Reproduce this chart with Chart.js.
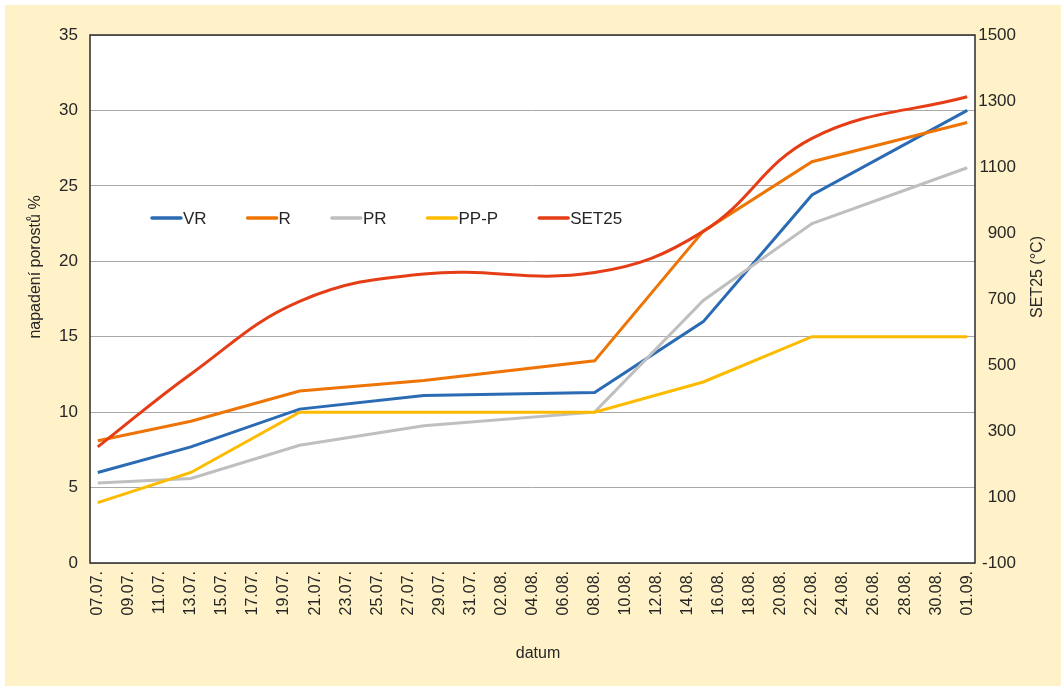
<!DOCTYPE html>
<html>
<head>
<meta charset="utf-8">
<script src="https://cdn.jsdelivr.net/npm/chart.js@4.4.1/dist/chart.umd.min.js"></script>
<style>
  html, body { margin: 0; padding: 0; background: #ffffff; }
  #wrap {
    position: absolute;
    left: 5px;
    top: 5px;
    width: 1056px;
    height: 681px;
    background: #fff2c8;
  }
</style>
</head>
<body>
<div id="wrap"><canvas id="myChart" width="1056" height="681"></canvas></div>
<script>
// all days on the x axis (every second one gets a label)
const days = [
  "07.07.", "08.07.", "09.07.", "10.07.", "11.07.", "12.07.", "13.07.", "14.07.",
  "15.07.", "16.07.", "17.07.", "18.07.", "19.07.", "20.07.", "21.07.", "22.07.",
  "23.07.", "24.07.", "25.07.", "26.07.", "27.07.", "28.07.", "29.07.", "30.07.",
  "31.07.", "01.08.", "02.08.", "03.08.", "04.08.", "05.08.", "06.08.", "07.08.",
  "08.08.", "09.08.", "10.08.", "11.08.", "12.08.", "13.08.", "14.08.", "15.08.",
  "16.08.", "17.08.", "18.08.", "19.08.", "20.08.", "21.08.", "22.08.", "23.08.",
  "24.08.", "25.08.", "26.08.", "27.08.", "28.08.", "29.08.", "30.08.", "31.08.",
  "01.09.",
];

// measurement dates
const dates = ["07.07.", "13.07.", "20.07.", "28.07.", "08.08.", "15.08.", "22.08.", "01.09."];

// napadení porostů %
const vr = [6.0, 7.7, 10.2, 11.1, 11.3, 16.0, 24.4, 30.0];
const r = [8.1, 9.4, 11.4, 12.1, 13.4, 22.0, 26.6, 29.2];
const pr = [5.3, 5.6, 7.8, 9.1, 10.0, 17.4, 22.5, 26.2];
const ppp = [4.0, 6.0, 10.0, 10.0, 10.0, 12.0, 15.0, 15.0];

// SET25 (°C), right axis
const set25 = [252, 473, 693, 776, 780, 905, 1187, 1313];

const FONT = "'Liberation Sans', Arial, sans-serif";
const TEXT = "#262626";

function toPoints(values) {
  return dates.map((d, i) => ({ x: d, y: values[i] }));
}

function lineSet(label, values, color, axis, order, tension) {
  return {
    label: label,
    data: toPoints(values),
    borderColor: color,
    backgroundColor: color,
    borderWidth: 3,
    pointRadius: 0,
    pointHoverRadius: 0,
    tension: tension,
    yAxisID: axis,
    order: order,
  };
}

// white plot area, frame, legend and axis titles
const decorations = {
  id: "decorations",
  beforeDraw(chart) {
    const { ctx, chartArea: a } = chart;
    ctx.save();
    ctx.fillStyle = "#ffffff";
    ctx.fillRect(a.left, a.top, a.right - a.left, a.bottom - a.top);
    ctx.restore();
  },
  afterDraw(chart) {
    const { ctx, chartArea: a } = chart;
    ctx.save();
    ctx.strokeStyle = "#2b2b2b";
    ctx.lineWidth = 1.5;
    ctx.strokeRect(a.left, a.top, a.right - a.left, a.bottom - a.top);

    // legend inside the plot
    ctx.font = "17px " + FONT;
    ctx.textBaseline = "middle";
    let x = 147;
    const y = 213;
    chart.data.datasets.forEach((ds) => {
      ctx.strokeStyle = ds.borderColor;
      ctx.lineWidth = 3.5;
      ctx.lineCap = "round";
      ctx.beginPath();
      ctx.moveTo(x, y);
      ctx.lineTo(x + 29, y);
      ctx.stroke();
      ctx.fillStyle = TEXT;
      ctx.textAlign = "left";
      ctx.fillText(ds.label, x + 31, y + 1);
      x += 31 + ctx.measureText(ds.label).width + 41;
    });

    // axis titles
    ctx.font = "16px " + FONT;
    ctx.fillStyle = TEXT;
    ctx.textAlign = "center";
    ctx.textBaseline = "middle";
    ctx.fillText("datum", 533, 649);

    ctx.save();
    ctx.translate(31, 262);
    ctx.rotate(-Math.PI / 2);
    ctx.fillText("napadení porostů %", 0, 0);
    ctx.restore();

    ctx.save();
    ctx.translate(1033, 272);
    ctx.rotate(-Math.PI / 2);
    ctx.fillText("SET25 (°C)", 0, 0);
    ctx.restore();

    ctx.restore();
  },
};

const ctx = document.getElementById("myChart").getContext("2d");

new Chart(ctx, {
  type: "line",
  data: {
    labels: days,
    datasets: [
      lineSet("VR", vr, "#2a6bb4", "y", 5, 0),
      lineSet("R", r, "#ee7405", "y", 4, 0),
      lineSet("PR", pr, "#bfbfbf", "y", 3, 0),
      lineSet("PP-P", ppp, "#fdbb00", "y", 2, 0),
      lineSet("SET25", set25, "#e53e17", "y2", 1, 0.4),
    ],
  },
  options: {
    responsive: false,
    animation: false,
    events: [],
    layout: { padding: { top: 30, left: 0, right: 45, bottom: 0 } },
    plugins: {
      legend: { display: false },
      tooltip: { enabled: false },
    },
    scales: {
      x: {
        type: "category",
        offset: true,
        grid: { display: false, drawTicks: false },
        border: { display: false },
        ticks: {
          autoSkip: false,
          minRotation: 90,
          maxRotation: 90,
          padding: 8,
          color: TEXT,
          font: { family: FONT, size: 16 },
          callback: function (value, index) {
            return index % 2 === 0 ? this.getLabelForValue(value) : "";
          },
        },
        afterFit(scale) {
          scale.height = 123;
        },
      },
      y: {
        position: "left",
        min: 0,
        max: 35,
        grid: { color: "#a9a9a9", lineWidth: 1, drawTicks: false },
        border: { display: false },
        ticks: {
          stepSize: 5,
          padding: 12,
          color: TEXT,
          font: { family: FONT, size: 17 },
        },
        afterFit(scale) {
          scale.width = 85;
        },
      },
      y2: {
        position: "right",
        min: -100,
        max: 1500,
        grid: { display: false, drawTicks: false },
        border: { display: false },
        ticks: {
          stepSize: 200,
          padding: 3,
          crossAlign: "far",
          color: TEXT,
          font: { family: FONT, size: 17 },
          callback: (value) => String(value),
        },
        afterFit(scale) {
          scale.width = 41;
        },
      },
    },
  },
  plugins: [decorations],
});
</script>
</body>
</html>
